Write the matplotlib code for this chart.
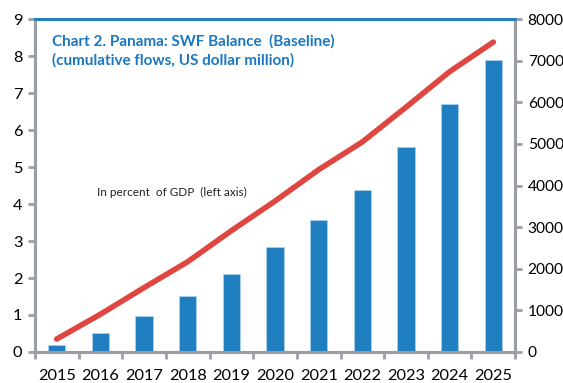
import matplotlib.pyplot as plt
import numpy as np

plt.rcParams['font.family'] = ['Lato', 'DejaVu Sans']

years = ['2015', '2016', '2017', '2018', '2019', '2020',
         '2021', '2022', '2023', '2024', '2025']
# SWF balance, US dollar million (right axis)
balance_usd_mn = [160, 460, 870, 1345, 1880, 2520, 3165, 3900, 4915, 5960, 7030]
# SWF balance, percent of GDP (left axis)
balance_pct_gdp = [0.35, 1.02, 1.74, 2.44, 3.28, 4.08, 4.93, 5.68, 6.62, 7.58, 8.38]

blue = '#1f7fc1'
red = '#df4640'
grey = '#9a9ea3'

fig = plt.figure(figsize=(5.63, 3.83), dpi=100)
ax = fig.add_axes([0.062, 0.081, 0.853, 0.869])
ax2 = ax.twinx()

x = np.arange(len(years))
ax2.bar(x, balance_usd_mn, width=0.4, color=blue, edgecolor='#a9cfee',
        linewidth=0.6, zorder=2)
ax.plot(x, balance_pct_gdp, color=red, linewidth=4, solid_capstyle='round',
        zorder=3)
ax.set_zorder(ax2.get_zorder() + 1)
ax.patch.set_visible(False)

ax.set_xlim(-0.5, len(years) - 0.5)
ax.set_ylim(0, 9)
ax2.set_ylim(0, 8000)
ax.set_yticks(range(0, 10))
ax2.set_yticks(range(0, 8001, 1000))

ax.set_xticks(x)
ax.set_xticklabels(years)
ax.set_xticks(np.arange(-0.5, len(years)), minor=True)
ax.tick_params(axis='x', which='major', length=0, pad=12, labelsize=11.8)
ax.tick_params(axis='x', which='minor', length=5, width=2, color=grey)
ax.tick_params(axis='y', length=5, width=2, color=grey, labelsize=11.8, pad=4)
ax2.tick_params(axis='y', length=5, width=2, color=grey, labelsize=11.2, pad=4)

for a in (ax, ax2):
    for side in ('left', 'right', 'bottom'):
        a.spines[side].set_color(grey)
        a.spines[side].set_linewidth(2.2)
    a.spines['top'].set_color(blue)
    a.spines['top'].set_linewidth(2)

ax.text(0.035, 0.955, 'Chart 2. Panama: SWF Balance  (Baseline)\n'
        '(cumulative flows, US dollar million)',
        transform=ax.transAxes, ha='left', va='top', color='#1a78c2',
        fontsize=11, fontweight='bold', linespacing=1.4)
ax.text(0.13, 0.48, 'In percent  of GDP  (left axis)', transform=ax.transAxes,
        ha='left', va='center', fontsize=8.5, color='#222222')

fig.savefig('out.png', dpi=100)
